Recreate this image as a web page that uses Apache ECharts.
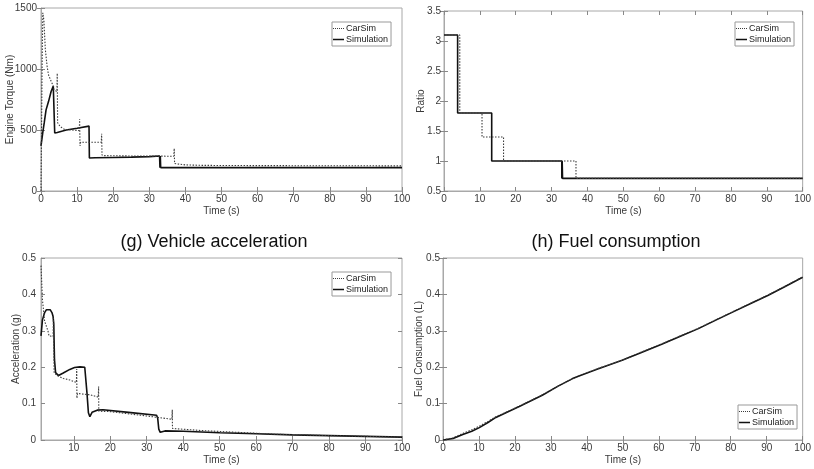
<!DOCTYPE html>
<html>
<head>
    <meta charset="utf-8">
    <title>CarSim vs Simulation</title>
    <script src="https://cdn.jsdelivr.net/npm/echarts@6/dist/echarts.min.js"></script>
    <style>
        html, body { margin: 0; padding: 0; background: #fff; }
        #chart { width: 814px; height: 469px; }
    </style>
</head>
<body>
    <div id="chart"></div>
    <script>
        // engine torque (Nm)
        var torqueCarSimT = [0, 0.3, 0.5, 0.8, 1.2, 1.7, 2.1, 2.8, 3.4, 3.6, 4.4, 4.5, 4.6, 5.3, 6.5, 8.5, 10.6, 10.7, 10.8, 11.0, 16.7, 16.8, 16.9, 17.5, 25, 36.8, 36.9, 37.0, 40, 45, 60, 80, 100];
        var torqueCarSimV = [0, 1000, 1460, 1400, 1160, 1020, 950, 900, 860, 830, 815, 965, 560, 528, 505, 500, 495, 590, 370, 400, 400, 470, 295, 290, 287, 285, 350, 225, 214, 210, 208, 207, 206];
        var torqueSimT = [0, 0.5, 0.9, 1.4, 2.1, 2.8, 3.4, 3.7, 3.8, 4.5, 7, 10, 13.3, 13.4, 15, 20, 25, 30, 32.85, 32.95, 33.05, 33.15, 40, 60, 100];
        var torqueSimV = [370, 480, 560, 665, 735, 815, 860, 870, 475, 480, 500, 515, 532, 270, 272, 275, 278, 282, 287, 191, 287, 192, 192, 192, 192];

        // gear ratio
        var ratioCarSimT = [0, 4.4, 10.6, 16.6, 36.8, 100];
        var ratioCarSimV = [3.1, 1.8, 1.4, 1.0, 0.71, 0.71];
        var ratioSimT = [0, 3.8, 13.3, 32.85, 32.95, 33.05, 100];
        var ratioSimV = [3.1, 1.8, 1.0, 0.71, 1.0, 0.71, 0.71];

        // vehicle acceleration (g)
        var accCarSimT = [1, 1.4, 2.0, 2.9, 3.2, 4.3, 4.4, 4.6, 5.7, 7.1, 8.9, 10.7, 10.8, 10.85, 11.0, 14.5, 16.7, 16.8, 16.85, 17.2, 20, 30, 36.9, 37.0, 37.05, 38, 45, 55, 65, 80, 100];
        var accCarSimV = [0.479, 0.385, 0.326, 0.300, 0.286, 0.284, 0.335, 0.184, 0.176, 0.169, 0.165, 0.158, 0.195, 0.115, 0.128, 0.124, 0.118, 0.147, 0.079, 0.082, 0.078, 0.066, 0.057, 0.083, 0.032, 0.031, 0.026, 0.021, 0.016, 0.012, 0.008];
        var accSimT = [1, 1.4, 2.0, 2.5, 3.0, 3.5, 4.0, 4.3, 4.5, 4.7, 5.0, 5.8, 7.1, 8.9, 10.2, 11.7, 13.0, 13.3, 13.6, 14.0, 14.4, 15.0, 16.4, 18, 25, 32.7, 33.0, 33.3, 33.7, 35, 40, 50, 60, 70, 80, 90, 100];
        var accSimV = [0.286, 0.33, 0.35, 0.358, 0.362, 0.358, 0.35, 0.34, 0.32, 0.22, 0.185, 0.177, 0.184, 0.194, 0.199, 0.201, 0.200, 0.195, 0.130, 0.075, 0.064, 0.076, 0.082, 0.083, 0.076, 0.068, 0.060, 0.030, 0.021, 0.025, 0.024, 0.020, 0.017, 0.014, 0.012, 0.010, 0.008];

        // fuel consumption (L)
        var fuelCarSimT = [0, 2.8, 5.5, 8, 10.1, 12.5, 14.7, 16.6, 21.2, 27.6, 32, 35.9, 37.8, 43, 49.8, 55, 60.8, 66, 71, 76, 81.1, 86, 90.3, 95, 100];
        var fuelCarSimV = [0, 0.006, 0.018, 0.028, 0.038, 0.051, 0.064, 0.072, 0.093, 0.124, 0.148, 0.168, 0.176, 0.196, 0.219, 0.241, 0.264, 0.286, 0.307, 0.331, 0.355, 0.378, 0.398, 0.422, 0.448];
        var fuelSimT = [0, 2.8, 5.5, 8, 10.1, 12.5, 14.7, 16.6, 21.2, 27.6, 32, 35.9, 37.8, 43, 49.8, 55, 60.8, 66, 71, 76, 81.1, 86, 90.3, 95, 100];
        var fuelSimV = [0, 0.004, 0.015, 0.024, 0.034, 0.048, 0.062, 0.071, 0.092, 0.123, 0.148, 0.168, 0.176, 0.195, 0.219, 0.240, 0.263, 0.285, 0.306, 0.330, 0.354, 0.377, 0.397, 0.421, 0.447];

        var timeTicks = [10, 20, 30, 40, 50, 60, 70, 80, 90, 100];

        var FONT = 'Liberation Sans, Arial, sans-serif';
        var BOX = '#a8a8a8';
        var TEXT = '#3a3a3a';

        function pairs(t, v) {
            var out = [];
            for (var i = 0; i < t.length; i++) out.push([t[i], v[i]]);
            return out;
        }
        function plain(v) {
            return String(+v.toFixed(2));
        }

        var grids = [
            { left: 41, right: 412, top: 8, bottom: 278 },
            { left: 444, right: 8, top: 11, bottom: 278 },
            { left: 41, right: 412, top: 258, bottom: 29 },
            { left: 443, right: 9, top: 258, bottom: 29 }
        ];
        // x range, y range, y interval, y name, y name gap, y label margin
        var axesCfg = [
            { xmin: 0, xmax: 100, ymin: 0, ymax: 1500, yint: 500, yname: 'Engine Torque (Nm)', gap: 26, lm: 4 },
            { xmin: 0, xmax: 100, ymin: 0.5, ymax: 3.5, yint: 0.5, yname: 'Ratio', gap: 18, lm: 3 },
            { xmin: 1, xmax: 100, ymin: 0, ymax: 0.5, yint: 0.1, yname: 'Acceleration (g)', gap: 20, lm: 5, custom: true },
            { xmin: 0, xmax: 100, ymin: 0, ymax: 0.5, yint: 0.1, yname: 'Fuel Consumption (L)', gap: 19, lm: 3 }
        ];

        var xAxes = [], yAxes = [], gridList = [];
        axesCfg.forEach(function (c, g) {
            gridList.push(Object.assign({ show: true, borderColor: BOX, borderWidth: 1, backgroundColor: '#fff', containLabel: false }, grids[g]));
            var tick = { inside: true, length: 4, lineStyle: { color: '#888', width: 1 } };
            var bottom = {
                gridIndex: g, type: 'value', position: 'bottom', min: c.xmin, max: c.xmax,
                name: 'Time (s)', nameLocation: 'middle', nameGap: 15, nameMoveOverlap: false,
                nameTextStyle: { fontSize: 10, color: TEXT, fontFamily: FONT },
                axisLine: { show: true, lineStyle: { color: BOX } },
                axisTick: Object.assign({}, tick),
                axisLabel: { fontSize: 10, color: TEXT, fontFamily: FONT, margin: 3, formatter: plain },
                splitLine: { show: false }
            };
            var top = {
                gridIndex: g, type: 'value', position: 'top', min: c.xmin, max: c.xmax,
                axisLine: { show: false }, axisTick: Object.assign({}, tick),
                axisLabel: { show: false }, splitLine: { show: false }
            };
            if (c.custom) {
                bottom.axisTick.customValues = timeTicks;
                bottom.axisLabel.customValues = timeTicks;
                top.axisTick.customValues = timeTicks;
            } else {
                bottom.interval = 10;
                top.interval = 10;
            }
            xAxes.push(bottom, top);
            yAxes.push({
                gridIndex: g, type: 'value', position: 'left', min: c.ymin, max: c.ymax, interval: c.yint,
                name: c.yname, nameLocation: 'middle', nameGap: c.gap, nameMoveOverlap: false,
                nameTextStyle: { fontSize: 10, color: TEXT, fontFamily: FONT },
                axisLine: { show: true, lineStyle: { color: BOX } },
                axisTick: Object.assign({}, tick),
                axisLabel: { fontSize: 10, color: TEXT, fontFamily: FONT, margin: c.lm, formatter: plain },
                splitLine: { show: false }
            }, {
                gridIndex: g, type: 'value', position: 'right', min: c.ymin, max: c.ymax, interval: c.yint,
                axisLine: { show: false }, axisTick: Object.assign({}, tick),
                axisLabel: { show: false }, splitLine: { show: false }
            });
        });

        var carSimStyle = { color: '#3c3c3c', width: 1.1, type: [1.5, 1.5] };
        var simStyle = { color: '#111', width: 1.6, type: 'solid' };

        function line(name, g, data, style, step) {
            var s = {
                name: name, type: 'line', xAxisIndex: 2 * g, yAxisIndex: 2 * g,
                data: data, symbol: 'none', lineStyle: style, itemStyle: { color: style.color },
                animation: false, z: name === 'Simulation' ? 3 : 4
            };
            if (step) s.step = step;
            return s;
        }

        var series = [
            line('Simulation', 0, pairs(torqueSimT, torqueSimV), simStyle),
            line('CarSim', 0, pairs(torqueCarSimT, torqueCarSimV), carSimStyle),
            line('Simulation', 1, pairs(ratioSimT, ratioSimV), simStyle, 'end'),
            line('CarSim', 1, pairs(ratioCarSimT, ratioCarSimV), carSimStyle, 'end'),
            line('Simulation', 2, pairs(accSimT, accSimV), simStyle),
            line('CarSim', 2, pairs(accCarSimT, accCarSimV), carSimStyle),
            line('Simulation', 3, pairs(fuelSimT, fuelSimV), simStyle),
            line('CarSim', 3, pairs(fuelCarSimT, fuelCarSimV), carSimStyle)
        ];

        // dotted and solid sample strokes for the legend keys
        var dotIcon = 'path://M0 0h1v1H0z M2 0h1v1H2z M4 0h1v1H4z M6 0h1v1H6z M8 0h1v1H8z M10 0h1v1H10z';
        var legendPos = [[332, 22], [735, 22], [332, 272], [738, 405]];
        var legends = legendPos.map(function (p) {
            return {
                left: p[0], top: p[1], orient: 'vertical',
                data: [{ name: 'CarSim', icon: dotIcon }, { name: 'Simulation', icon: 'rect' }],
                itemWidth: 11, itemHeight: 1.5, itemGap: 2,
                padding: [2, 3, 2, 1],
                borderColor: '#999', borderWidth: 1, backgroundColor: '#fff',
                textStyle: { fontSize: 9, color: '#222', fontFamily: FONT, padding: [0, 0, 0, -3] },
                selectedMode: false
            };
        });

        var titles = [
            { text: '(g) Vehicle acceleration', left: 214, top: 233 },
            { text: '(h) Fuel consumption', left: 616, top: 233 }
        ].map(function (t) {
            return {
                text: t.text, left: t.left, top: t.top, textAlign: 'center', padding: 0,
                textStyle: { fontSize: 18, fontWeight: 'normal', color: '#111', fontFamily: FONT }
            };
        });

        var myChart = echarts.init(document.getElementById('chart'), null, { renderer: 'canvas' });
        myChart.setOption({
            animation: false,
            backgroundColor: '#fff',
            title: titles,
            legend: legends,
            grid: gridList,
            xAxis: xAxes,
            yAxis: yAxes,
            series: series
        });
    </script>
</body>
</html>
